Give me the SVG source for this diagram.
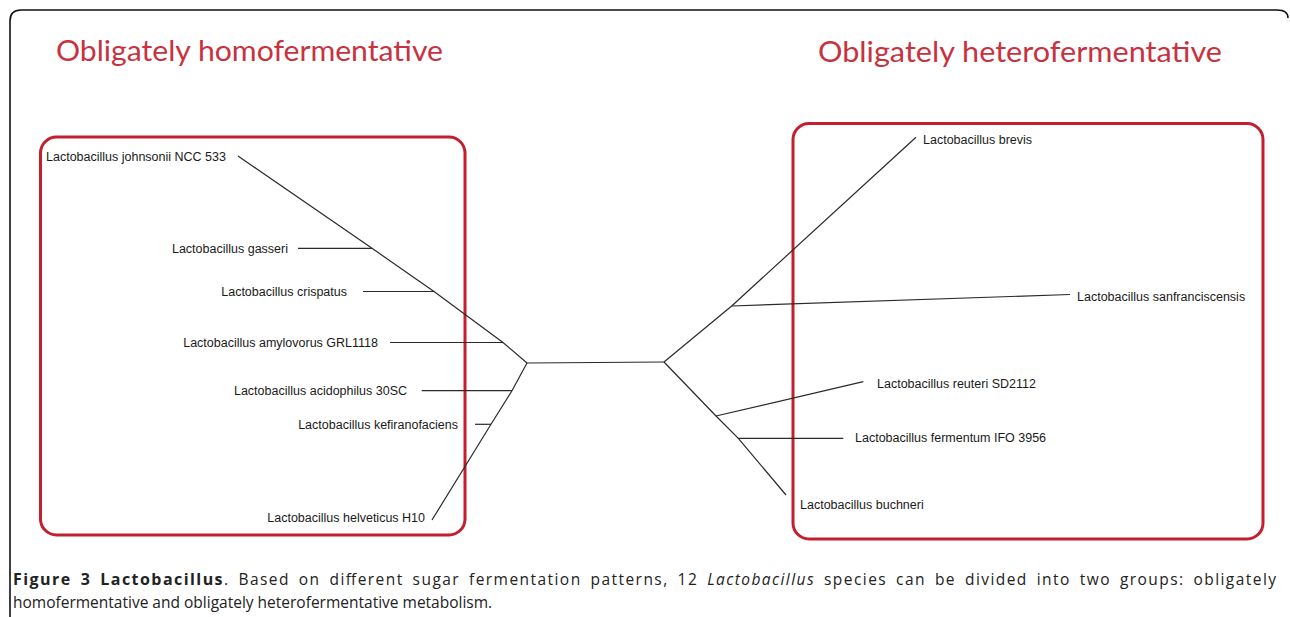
<svg xmlns="http://www.w3.org/2000/svg" width="1290" height="617" viewBox="0 0 1290 617">
<style>
.frame{fill:none;stroke:#111;stroke-width:1.6}
.box{fill:none;stroke:#c41f2f;stroke-width:3}
.title{font-family:Lato,"Open Sans",sans-serif;font-size:29px;fill:#c8323f}
.lbl{font-family:"Liberation Sans",Arial,sans-serif;font-size:12.5px;fill:#1a1a1a}
.end{text-anchor:end}
.edge{fill:none;stroke:#2a2a2a;stroke-width:1.2}
.cap{font-family:"Open Sans",sans-serif;font-size:15.5px;fill:#222}
.w{word-spacing:3.5px}
.b{font-weight:bold;font-size:16px}
.i{font-style:italic}
</style>
<rect width="1290" height="617" fill="#fff"/>
<path class="frame" d="M10,617 V21 Q10,10 21,10 H1277 Q1288,10 1288,18"/>
<g id="group-homo">
<rect class="box" x="40.5" y="137" width="424.5" height="398" rx="16"/>
<text class="title" x="56" y="61" textLength="387" lengthAdjust="spacingAndGlyphs">Obligately homofermentative</text>
</g>
<g id="group-hetero">
<rect class="box" x="793" y="123.5" width="470" height="415.5" rx="16"/>
<text class="title" x="818" y="62" textLength="404" lengthAdjust="spacingAndGlyphs">Obligately heterofermentative</text>
</g>
<g id="connectors">
<polyline class="edge" points="238,156 372,248.3 434,291.5 503,342.5 527,363"/>
<polyline class="edge" points="527,363 512,390.7 491,424.3 432,520"/>
<line class="edge" x1="298" y1="248.3" x2="372" y2="248.3"/>
<line class="edge" x1="363" y1="291.5" x2="434" y2="291.5"/>
<line class="edge" x1="390" y1="342.5" x2="503" y2="342.5"/>
<line class="edge" x1="421.7" y1="390.7" x2="512" y2="390.7"/>
<line class="edge" x1="475" y1="424.3" x2="491" y2="424.3"/>
<polyline class="edge" points="527,363 596,362.5 664,362"/>
<polyline class="edge" points="664,362 731.7,306 916,137.3"/>
<line class="edge" x1="731.7" y1="306" x2="1070" y2="294.5"/>
<polyline class="edge" points="664,362 716,416 738.3,438.3 786,495"/>
<line class="edge" x1="716" y1="416" x2="863.3" y2="381.7"/>
<line class="edge" x1="738.3" y1="438.3" x2="843.3" y2="438.3"/>
</g>
<g id="node-johnsonii"><text class="lbl" x="46" y="160.5">Lactobacillus johnsonii NCC 533</text></g>
<g id="node-gasseri"><text class="lbl end" x="288" y="253">Lactobacillus gasseri</text></g>
<g id="node-crispatus"><text class="lbl end" x="347" y="296">Lactobacillus crispatus</text></g>
<g id="node-amylovorus"><text class="lbl end" x="378" y="347">Lactobacillus amylovorus GRL1118</text></g>
<g id="node-acidophilus"><text class="lbl end" x="407" y="395.3">Lactobacillus acidophilus 30SC</text></g>
<g id="node-kefiranofaciens"><text class="lbl end" x="458" y="428.8">Lactobacillus kefiranofaciens</text></g>
<g id="node-helveticus"><text class="lbl end" x="425" y="522">Lactobacillus helveticus H10</text></g>
<g id="node-brevis"><text class="lbl" x="923" y="143.5">Lactobacillus brevis</text></g>
<g id="node-sanfranciscensis"><text class="lbl" x="1077" y="300.5">Lactobacillus sanfranciscensis</text></g>
<g id="node-reuteri"><text class="lbl" x="877" y="387.5">Lactobacillus reuteri SD2112</text></g>
<g id="node-fermentum"><text class="lbl" x="855" y="442">Lactobacillus fermentum IFO 3956</text></g>
<g id="node-buchneri"><text class="lbl" x="800" y="508.5">Lactobacillus buchneri</text></g>
<g id="caption">
<text class="cap w" x="13" y="585" textLength="1263"><tspan class="b">Figure 3 Lactobacillus</tspan>. Based on different sugar fermentation patterns, 12 <tspan class="i">Lactobacillus</tspan> species can be divided into two groups: obligately</text>
<text class="cap" x="13" y="608">homofermentative and obligately heterofermentative metabolism.</text>
</g>
</svg>
